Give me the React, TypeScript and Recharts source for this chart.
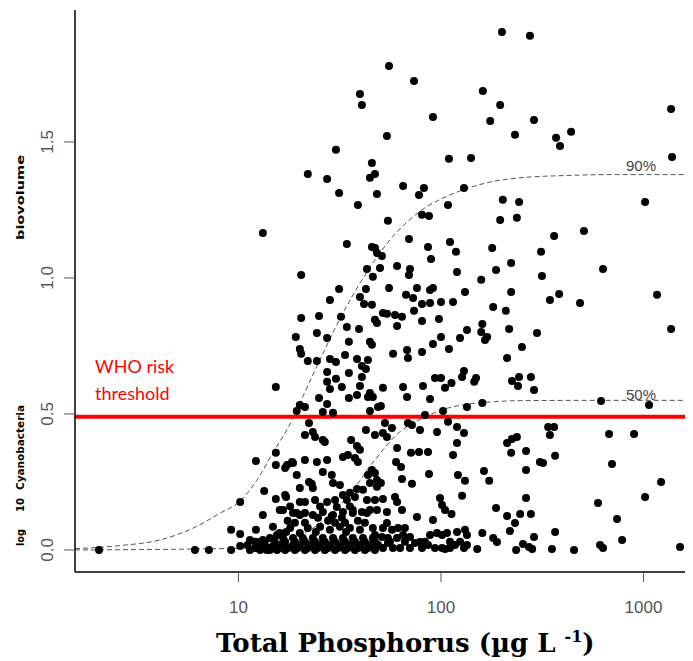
import React from "react"
import { ComposedChart, Scatter, Line, XAxis, YAxis, ReferenceLine } from "recharts"

// [total phosphorus (µg/L), log10 cyanobacteria biovolume]
const lakeSamples: [number, number][] = [
  // low nutrient tail
  [2.05, 0], [6.1, 0], [7.15, 0], [9.2, 0], [10.2, 0.015], [9.2, 0.074], [10.2, 0.059], [10.2, 0.176],
  [12.2, 0.327], [13.4, 0.217], [15.3, 0.357], [15.3, 0.312], [13.2, 0.129], [15.3, 0.187], [16.0, 0.147],
  [17.2, 0.195], [18.6, 0.32], [17.0, 0.301], [19.4, 0.276], [11.4, 0.037], [12.3, 0.029], [13.2, 0.037],
  [14.3, 0.044], [15.5, 0.055], [11.1, 0.018], [13.2, 0.018], [14.8, 0.015], [11.4, 0], [12.8, 0], [13.8, 0],
  [15.5, 0], [12.2, 0.074], [14.8, 0.085], [16.0, 0.062], [18.0, 0.081], [18.6, 0.136], [17.0, 0.202],
  [20.1, 0.129], [15.3, 0.599], [13.2, 1.165], [20.4, 1.011], [12.1, 0.007], [14.3, 0], [16.6, 0.007], [18.6, 0.018],
  // 20-50 µg/L, high values
  [39.8, 1.676], [40.7, 1.636], [30.3, 1.471], [45.6, 1.423], [22.0, 1.382], [27.4, 1.364], [44.6, 1.368],
  [47.2, 1.382], [31.4, 1.312], [48.3, 1.309], [38.9, 1.268], [34.3, 1.125], [45.6, 1.114], [47.2, 1.11],
  [48.3, 1.092], [51.1, 1.081], [43.1, 1.033], [50.0, 1.037], [46.1, 1.004],
  [19.2, 0.783], [20.4, 0.853], [25.0, 0.86], [32.1, 0.857], [20.1, 0.739], [20.4, 0.721], [22.0, 0.695],
  [24.4, 0.695], [24.4, 0.798], [27.4, 0.779], [28.3, 0.919], [31.4, 0.959], [39.8, 0.93], [41.7, 0.904],
  [45.6, 0.901], [42.6, 0.959], [47.2, 0.846], [48.3, 0.834], [34.3, 0.82], [39.4, 0.812], [35.1, 0.765],
  [44.6, 0.765], [45.6, 0.754], [33.6, 0.717], [28.3, 0.702], [30.3, 0.691], [38.5, 0.702], [43.6, 0.698],
  [40.7, 0.676], [42.6, 0.665], [27.4, 0.654], [35.1, 0.651], [40.7, 0.636], [30.3, 0.629], [27.4, 0.618],
  [28.3, 0.592], [32.4, 0.599], [39.8, 0.603], [44.6, 0.577], [43.6, 0.562], [38.5, 0.57], [25.0, 0.559],
  [35.1, 0.559], [46.1, 0.562], [27.4, 0.537], [20.1, 0.533], [21.3, 0.526], [19.4, 0.511], [26.1, 0.507],
  [29.3, 0.504], [44.6, 0.511], [48.9, 0.526],
  // 20-50 µg/L, below threshold
  [22.3, 0.467], [21.3, 0.423], [23.3, 0.434], [23.9, 0.415], [26.1, 0.404], [42.6, 0.441], [47.2, 0.423],
  [36.0, 0.404], [38.5, 0.382], [26.7, 0.397], [17.4, 0.312], [18.4, 0.323], [21.3, 0.331], [24.4, 0.323],
  [27.4, 0.331], [32.8, 0.342], [34.7, 0.349], [37.6, 0.338], [38.9, 0.323], [39.8, 0.368], [22.3, 0.25],
  [23.0, 0.243], [20.1, 0.228], [26.1, 0.287], [28.9, 0.276], [29.3, 0.246], [31.7, 0.239], [43.6, 0.276],
  [44.6, 0.246], [48.3, 0.232], [23.3, 0.228], [35.5, 0.21], [38.5, 0.224], [20.1, 0.176], [21.3, 0.176],
  [23.9, 0.184], [27.4, 0.176], [30.0, 0.184], [32.8, 0.202], [37.6, 0.195], [41.2, 0.221], [43.1, 0.184],
  [30.6, 0.158], [34.3, 0.184], [36.7, 0.147], [16.6, 0.147], [19.4, 0.136], [21.3, 0.136], [23.3, 0.129],
  [26.1, 0.14], [29.3, 0.129], [32.8, 0.14], [36.7, 0.136], [40.7, 0.14], [44.6, 0.147], [48.3, 0.147],
  [24.7, 0.118], [28.9, 0.125], [32.4, 0.118], [43.1, 0.136], [22.0, 0.081], [25.3, 0.085], [28.3, 0.074],
  [31.7, 0.085], [35.5, 0.081], [39.8, 0.074], [46.1, 0.081], [20.1, 0.062], [17.5, 0.107], [27.7, 0.107],
  [38.9, 0.107], [17.2, 0.066], [24.1, 0.066], [34.0, 0.066],
  [19.0, 0.1], [21.3, 0.1], [30.0, 0.1], [33.6, 0.1], [42.1, 0.1], [18.0, 0.16], [25.3, 0.16], [35.5, 0.16],
  [16.6, 0.044], [18.6, 0.044], [20.8, 0.044], [23.3, 0.044], [26.1, 0.044], [29.3, 0.044], [32.8, 0.044],
  [36.7, 0.044], [41.2, 0.044], [46.1, 0.044],
  [12.1, 0.03], [13.5, 0.03], [15.1, 0.03], [17.0, 0.03], [19.0, 0.03], [21.3, 0.03], [23.9, 0.03],
  [26.7, 0.03], [30.0, 0.03], [33.6, 0.03], [37.6, 0.03], [42.1, 0.03], [47.2, 0.03],
  [16.0, 0.018], [20.1, 0.018], [22.6, 0.018], [25.3, 0.018], [28.3, 0.018], [31.7, 0.018], [35.5, 0.018],
  [39.8, 0.018], [44.6, 0.018], [48.9, 0.018],
  [12.5, 0.007], [14.0, 0.007], [15.7, 0.007], [17.6, 0.007], [19.6, 0.007], [22.0, 0.007], [24.6, 0.007],
  [27.7, 0.007], [31.0, 0.007], [34.7, 0.007], [38.9, 0.007], [43.6, 0.007],
  [17.0, 0], [19.0, 0], [21.3, 0], [23.9, 0], [26.7, 0], [30.0, 0], [33.6, 0], [37.6, 0], [42.1, 0], [47.2, 0],
  // 50-140 µg/L
  [55.4, 1.779], [73.6, 1.724], [91.3, 1.592], [54.1, 1.522], [109.5, 1.438], [140.7, 1.441], [65.0, 1.338],
  [82.4, 1.331], [77.9, 1.305], [129.9, 1.331], [108.3, 1.268], [54.7, 1.21], [80.6, 1.232], [87.3, 1.228],
  [69.5, 1.143], [110.8, 1.132], [86.3, 1.114], [118.6, 1.096], [89.3, 1.07], [60.7, 1.044], [70.3, 1.033],
  [69.5, 1.011], [120, 1.022], [55.4, 0.963], [76.1, 0.963], [88.3, 0.956], [91.3, 0.963], [67.2, 0.938],
  [72.8, 0.926], [131.4, 0.948], [80.6, 0.904], [88.3, 0.908], [100, 0.912], [114.7, 0.912], [73.6, 0.879],
  [51.7, 0.871], [54.1, 0.868], [59.3, 0.864], [64.2, 0.857], [60.7, 0.823], [80.6, 0.842], [97.7, 0.849],
  [134.4, 0.809], [124.2, 0.779], [100, 0.783], [91.3, 0.757], [109.5, 0.739], [58.0, 0.721], [68.0, 0.735],
  [68.7, 0.706], [80.6, 0.728], [129.9, 0.658], [127.1, 0.636], [93.4, 0.632], [100, 0.632], [112.7, 0.614],
  [104.7, 0.596], [51.7, 0.596], [65.0, 0.599], [68.0, 0.562], [81.5, 0.603], [88.3, 0.555], [50.5, 0.529],
  [134.4, 0.526], [102.4, 0.511], [83.4, 0.496],
  [52.9, 0.467], [51.7, 0.43], [57.3, 0.448], [54.1, 0.415], [68.7, 0.467], [71.9, 0.459], [78.8, 0.441],
  [95.6, 0.434], [108.3, 0.471], [120, 0.452], [129.9, 0.43], [120, 0.393], [60.7, 0.375], [71.1, 0.357],
  [77.9, 0.36], [86.3, 0.36], [114.7, 0.349], [60.0, 0.323], [63.5, 0.305], [45.6, 0.294], [47.2, 0.283],
  [48.3, 0.257], [50.5, 0.246], [64.2, 0.261], [71.9, 0.243], [87.3, 0.279], [121.3, 0.276], [131.4, 0.254],
  [47.2, 0.184], [51.7, 0.187], [59.3, 0.195], [60.7, 0.176], [64.2, 0.147], [54.1, 0.14], [98.9, 0.191],
  [101.2, 0.165], [104.7, 0.147], [112.7, 0.132], [127.1, 0.199], [91.3, 0.11], [76.1, 0.121], [54.1, 0.099],
  [51.7, 0.081], [57.3, 0.074], [61.4, 0.081], [66.4, 0.081], [47.2, 0.055], [51.1, 0.048], [54.7, 0.044],
  [60.7, 0.044], [65.0, 0.055], [70.3, 0.048], [78.8, 0.029], [80.6, 0.007], [88.3, 0.055], [95.6, 0.062],
  [101.2, 0.055], [107.1, 0.062], [120, 0.066], [131.4, 0.074], [134.4, 0.055], [51.7, 0.007], [57.9, 0.007],
  [62.8, 0.007], [70.3, 0.007], [93.4, 0.007], [101.2, 0.007], [110.8, 0.007], [129.9, 0.007], [134.4, 0.018],
  [54.7, 0.026], [74.4, 0.026], [86.3, 0.018], [117.3, 0.018], [104.7, 0.004],
  [56.0, 0.03], [66.4, 0.03], [83.4, 0.03], [110.8, 0.03], [124.2, 0.03],
  // > 140 µg/L
  [200, 1.904], [275, 1.89], [161, 1.687], [196, 1.636], [1368, 1.621], [175, 1.577], [288, 1.581],
  [232, 1.526], [370, 1.515], [439, 1.537], [387, 1.485], [1383, 1.445], [202, 1.287], [243, 1.279],
  [1018, 1.279], [196, 1.213], [237, 1.221], [508, 1.173], [362, 1.154], [179, 1.11], [312, 1.096],
  [222, 1.055], [631, 1.033], [187, 1.029], [315, 1.007], [158, 0.993], [222, 0.948], [383, 0.941],
  [1166, 0.938], [345, 0.919], [486, 0.908], [1368, 0.812], [181, 0.893], [209, 0.879], [160, 0.831],
  [158, 0.801], [169, 0.783], [165, 0.772], [217, 0.812], [298, 0.798], [251, 0.746], [212, 0.706],
  [149, 0.632], [146, 0.618], [224, 0.621], [243, 0.636], [240, 0.603], [278, 0.636], [288, 0.588],
  [160, 0.54], [617, 0.548], [1065, 0.533], [338, 0.452], [362, 0.452], [345, 0.423], [212, 0.393],
  [224, 0.408], [237, 0.415], [676, 0.426], [898, 0.426], [222, 0.357], [263, 0.364], [366, 0.346],
  [308, 0.323], [319, 0.32], [699, 0.316], [163, 0.29], [173, 0.254], [263, 0.294], [1221, 0.25],
  [1018, 0.195], [596, 0.173], [740, 0.114], [784, 0.037], [1515, 0.011], [610, 0.018], [631, 0.007],
  [454, 0], [353, 0.004], [366, 0.066], [263, 0.191], [187, 0.154], [212, 0.125], [232, 0.099], [246, 0.132],
  [278, 0.132], [219, 0.07], [254, 0.022], [272, 0.011], [282, 0.004], [235, 0], [288, 0.048], [181, 0.044],
  [189, 0.029], [160, 0.062], [151, 0.004],
]

// quantile regression curves
const quantile90: [number, number][] = [
  [1.56, 0.005], [2.6, 0.016], [4.1, 0.037], [5.96, 0.08], [8.1, 0.135], [10.2, 0.18], [12.3, 0.255],
  [14.6, 0.35], [18.6, 0.485], [20.1, 0.54], [25.3, 0.7], [31.7, 0.85], [42.1, 1.01], [56, 1.14],
  [78.8, 1.245], [110.8, 1.305], [169, 1.35], [245, 1.368], [434, 1.377], [707, 1.38], [1755, 1.38],
]
const quantile50: [number, number][] = [
  [1.56, 0], [10, 0.006], [16, 0.03], [20.1, 0.055], [23.9, 0.085], [28.3, 0.13], [35, 0.2], [47, 0.33],
  [62.8, 0.435], [81.5, 0.485], [101, 0.515], [133, 0.535], [182, 0.545], [246, 0.549], [610, 0.55], [1755, 0.55],
]

const xTicks = [10, 100, 1000]
const yTicks = [0, 0.5, 1, 1.5]
const whoThreshold = 0.49

const toRows = (pairs: [number, number][]) => pairs.map(([tp, y]) => ({ tp, y }))

const Dot = (props: any) => <circle cx={props.cx} cy={props.cy} r={4} fill="#000" />

const XTick = ({ x, y, payload }: any) => (
  <text x={x} y={y + 31} textAnchor="middle" fontSize={17} fill="#555" fontFamily="Liberation Sans">
    {payload.value}
  </text>
)

const YTick = ({ x, y, payload }: any) => (
  <text
    x={x - 11}
    y={y}
    transform={`rotate(-90 ${x - 11} ${y})`}
    textAnchor="middle"
    fontSize={17}
    fill="#555"
    fontFamily="Liberation Sans"
  >
    {payload.value.toFixed(1)}
  </text>
)

export default function App() {
  const points = toRows(lakeSamples)

  return (
    <div style={{ position: "relative", width: 693, height: 661, margin: "-8px 0 0 -8px", background: "#fff" }}>
      <ComposedChart width={693} height={661} margin={{ top: 10, right: 0, bottom: 0, left: 0 }}>
        <XAxis
          type="number"
          dataKey="tp"
          scale="log"
          domain={[1.56, 1755]}
          allowDataOverflow
          ticks={xTicks}
          height={89}
          tickSize={10}
          tickMargin={0}
          tick={<XTick />}
          axisLine={{ stroke: "#000", strokeWidth: 1.5 }}
          tickLine={{ stroke: "#555" }}
        />
        <YAxis
          type="number"
          dataKey="y"
          domain={[-0.081, 1.985]}
          allowDataOverflow
          ticks={yTicks}
          width={75}
          tickSize={11}
          tickMargin={0}
          tick={<YTick />}
          axisLine={{ stroke: "#000", strokeWidth: 1.5 }}
          tickLine={{ stroke: "#555" }}
        />
        <Line
          data={toRows(quantile90)}
          dataKey="y"
          type="monotone"
          stroke="#555"
          strokeWidth={1}
          strokeDasharray="5 3"
          dot={false}
          isAnimationActive={false}
        />
        <Line
          data={toRows(quantile50)}
          dataKey="y"
          type="monotone"
          stroke="#555"
          strokeWidth={1}
          strokeDasharray="5 3"
          dot={false}
          isAnimationActive={false}
        />
        <Scatter data={points} dataKey="y" shape={<Dot />} isAnimationActive={false} />
        <ReferenceLine y={whoThreshold} stroke="#ff0000" strokeWidth={4} />
      </ComposedChart>

      <svg width={693} height={661} style={{ position: "absolute", left: 0, top: 0, pointerEvents: "none" }}>
        {/* WHO threshold label */}
        <text x={95} y={373} fill="#ff0000" fontSize={18} fontFamily="Lato">WHO risk</text>
        <text x={95} y={400} fill="#ff0000" fontSize={18} fontFamily="Lato">threshold</text>

        {/* quantile labels */}
        <text x={626} y={171} fill="#444" fontSize={15} fontFamily="Liberation Sans">90%</text>
        <text x={626} y={400} fill="#444" fontSize={15} fontFamily="Liberation Sans">50%</text>

        {/* y axis title */}
        <g fontFamily="DejaVu Sans" fontWeight="bold" fill="#000" fontSize={11}>
          <text x={24} y={546} transform="rotate(-90 24 546)" textLength={17} lengthAdjust="spacingAndGlyphs">log</text>
          <text x={24} y={512} transform="rotate(-90 24 512)" textLength={14} lengthAdjust="spacingAndGlyphs">10</text>
          <text x={24} y={490} transform="rotate(-90 24 490)" textLength={85} lengthAdjust="spacingAndGlyphs">Cyanobacteria</text>
          <text x={24} y={240} transform="rotate(-90 24 240)" textLength={85} lengthAdjust="spacingAndGlyphs">biovolume</text>
        </g>

        {/* x axis title */}
        <text x={216} y={652} fontFamily="DejaVu Serif" fontWeight="bold" fontSize={26} fill="#000">
          Total Phosphorus (µg L <tspan fontSize={16} dy={-10}>-1</tspan>
          <tspan dy={10}>)</tspan>
        </text>
      </svg>
    </div>
  )
}
